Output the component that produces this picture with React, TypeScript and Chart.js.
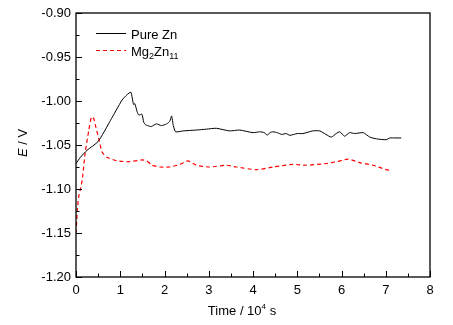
import React, { useEffect, useRef } from "react";
import { Chart, registerables } from "chart.js";

Chart.register(...registerables);

const znTime = [0, 0.1, 0.25, 0.5, 0.78, 1.04, 1.15, 1.24, 1.3, 1.33, 1.38, 1.42, 1.49, 1.53, 1.57, 1.62, 1.7, 1.82, 1.93, 2.05, 2.12, 2.16, 2.2, 2.25, 2.42, 2.72, 2.95, 3.17, 3.47, 3.7, 4.0, 4.15, 4.26, 4.32, 4.38, 4.45, 4.55, 4.65, 4.75, 4.83, 5.0, 5.13, 5.35, 5.51, 5.65, 5.77, 5.88, 5.96, 6.07, 6.18, 6.3, 6.49, 6.64, 6.79, 7.01, 7.09, 7.2, 7.35];
const znE = [-1.071, -1.064, -1.056, -1.046, -1.022, -0.999, -0.993, -0.99, -1.004, -1.003, -1.012, -1.016, -1.015, -1.024, -1.027, -1.028, -1.029, -1.026, -1.028, -1.026, -1.023, -1.017, -1.028, -1.035, -1.034, -1.033, -1.032, -1.031, -1.034, -1.033, -1.036, -1.035, -1.036, -1.039, -1.036, -1.035, -1.036, -1.038, -1.037, -1.039, -1.037, -1.037, -1.034, -1.034, -1.038, -1.041, -1.037, -1.035, -1.04, -1.036, -1.037, -1.036, -1.041, -1.043, -1.044, -1.042, -1.042, -1.042];

const mgTime = [0, 0.03, 0.06, 0.1, 0.14, 0.21, 0.29, 0.35, 0.4, 0.45, 0.51, 0.59, 0.7, 0.93, 1.19, 1.49, 1.6, 1.72, 1.89, 2.12, 2.35, 2.53, 2.72, 3.02, 3.4, 3.62, 4.08, 4.45, 4.9, 5.21, 5.66, 5.89, 6.15, 6.41, 6.71, 7.01, 7.13];
const mgE = [-1.15, -1.125, -1.109, -1.1, -1.09, -1.058, -1.033, -1.018, -1.02, -1.03, -1.042, -1.058, -1.064, -1.068, -1.069, -1.067, -1.068, -1.073, -1.075, -1.075, -1.072, -1.068, -1.073, -1.075, -1.073, -1.075, -1.078, -1.075, -1.072, -1.073, -1.071, -1.069, -1.066, -1.07, -1.073, -1.078, -1.079];

const xMin = 0, xMax = 8, xStep = 1;
const yMin = -1.2, yMax = -0.9, yStep = 0.05;

const FONT = "Arial, 'Liberation Sans', sans-serif";

const decorPlugin = {
  id: "decor",
  afterDraw(chart: any) {
    const ctx = chart.ctx;
    const { left, right, top, bottom } = chart.chartArea;
    const xs = chart.scales.x;
    const ys = chart.scales.y;
    ctx.save();
    ctx.strokeStyle = "#000";
    ctx.lineWidth = 1.3;
    ctx.strokeRect(left, top, right - left, bottom - top);
    ctx.lineWidth = 1;
    ctx.beginPath();
    for (let v = xMin; v <= xMax + 1e-9; v += xStep / 2) {
      const px = Math.round(xs.getPixelForValue(v)) + 0.5;
      const major = Math.abs(v - Math.round(v)) < 1e-6;
      const len = major ? 6 : 3.5;
      ctx.moveTo(px, bottom);
      ctx.lineTo(px, bottom - len);
    }
    for (let i = 0; i <= Math.round((yMax - yMin) / (yStep / 2)); i++) {
      const v = yMin + i * (yStep / 2);
      const py = Math.round(ys.getPixelForValue(v)) + 0.5;
      const len = i % 2 === 0 ? 6 : 3.5;
      ctx.moveTo(left, py);
      ctx.lineTo(left + len, py);
    }
    ctx.stroke();

    // legend
    ctx.lineWidth = 1;
    ctx.strokeStyle = "#000";
    ctx.setLineDash([]);
    ctx.beginPath();
    ctx.moveTo(96, 33.5);
    ctx.lineTo(126, 33.5);
    ctx.stroke();
    ctx.strokeStyle = "#ff0000";
    ctx.lineWidth = 1.2;
    ctx.setLineDash([4, 3]);
    ctx.beginPath();
    ctx.moveTo(96, 50.5);
    ctx.lineTo(126, 50.5);
    ctx.stroke();
    ctx.setLineDash([]);
    ctx.fillStyle = "#000";
    ctx.textBaseline = "alphabetic";
    ctx.textAlign = "left";
    ctx.font = `13px ${FONT}`;
    ctx.fillText("Pure Zn", 131, 38.5);
    let x = 131;
    const by = 55.5;
    ctx.font = `13px ${FONT}`;
    ctx.fillText("Mg", x, by);
    x += ctx.measureText("Mg").width;
    ctx.font = `9px ${FONT}`;
    ctx.fillText("2", x, by + 3);
    x += ctx.measureText("2").width;
    ctx.font = `13px ${FONT}`;
    ctx.fillText("Zn", x, by);
    x += ctx.measureText("Zn").width;
    ctx.font = `9px ${FONT}`;
    ctx.fillText("11", x, by + 3);

    // x title
    ctx.font = `13px ${FONT}`;
    const p1 = "Time / 10";
    const sup = "4";
    const p2 = " s";
    ctx.font = `8px ${FONT}`;
    const ws = ctx.measureText(sup).width;
    ctx.font = `13px ${FONT}`;
    const total = ctx.measureText(p1).width + ws + ctx.measureText(p2).width;
    let tx = (left + right) / 2 - 11 - total / 2;
    const ty = 315;
    ctx.fillText(p1, tx, ty);
    tx += ctx.measureText(p1).width;
    ctx.font = `8px ${FONT}`;
    ctx.fillText(sup, tx, ty - 6);
    tx += ws;
    ctx.font = `13px ${FONT}`;
    ctx.fillText(p2, tx, ty);

    // y title
    ctx.save();
    ctx.translate(27, 143);
    ctx.rotate(-Math.PI / 2);
    ctx.font = `italic 13px ${FONT}`;
    const e = "E";
    const rest = " / V";
    const we = ctx.measureText(e).width;
    ctx.font = `13px ${FONT}`;
    const wr = ctx.measureText(rest).width;
    let yx = -(we + wr) / 2;
    ctx.font = `italic 13px ${FONT}`;
    ctx.fillText(e, yx, 0);
    yx += we;
    ctx.font = `13px ${FONT}`;
    ctx.fillText(rest, yx, 0);
    ctx.restore();

    ctx.restore();
  },
};

export default function App() {
  const ref = useRef<HTMLCanvasElement | null>(null);
  useEffect(() => {
    document.body.style.margin = "0";
    const canvas = ref.current!;
    const chart = new Chart(canvas, {
      type: "line",
      data: {
        datasets: [
          {
            label: "Pure Zn",
            data: znTime.map((t, i) => ({ x: t, y: znE[i] })),
            borderColor: "#000000",
            borderWidth: 1,
            pointRadius: 0,
            fill: false,
            tension: 0.2,
          },
          {
            label: "Mg2Zn11",
            data: mgTime.map((t, i) => ({ x: t, y: mgE[i] })),
            borderColor: "#ff0000",
            borderWidth: 1.2,
            borderDash: [4, 3],
            pointRadius: 0,
            fill: false,
            tension: 0.2,
          },
        ],
      },
      options: {
        responsive: false,
        animation: false,
        devicePixelRatio: 1,
        layout: { padding: { top: 13, right: 23, left: 0, bottom: 0 } },
        plugins: { legend: { display: false }, tooltip: { enabled: false }, title: { display: false } },
        scales: {
          x: {
            type: "linear",
            min: xMin,
            max: xMax,
            grid: { display: false, drawTicks: false },
            border: { display: false },
            ticks: {
              stepSize: xStep,
              color: "#000",
              font: { family: FONT, size: 13 },
              padding: 6,
              maxRotation: 0,
              callback: (v: any) => String(v),
            },
            afterFit: (s: any) => { s.height = 48; },
          },
          y: {
            type: "linear",
            min: yMin,
            max: yMax,
            grid: { display: false, drawTicks: false },
            border: { display: false },
            ticks: {
              stepSize: yStep,
              color: "#000",
              font: { family: FONT, size: 13 },
              padding: 5,
              callback: (v: any) => Number(v).toFixed(2),
            },
            afterFit: (s: any) => { s.width = 76; },
          },
        },
      },
      plugins: [decorPlugin],
    });
    return () => chart.destroy();
  }, []);
  return (
    <div style={{ position: "fixed", left: 0, top: 0, width: 453, height: 325 }}>
      <canvas ref={ref} width={453} height={325} style={{ width: 453, height: 325, display: "block" }} />
    </div>
  );
}
